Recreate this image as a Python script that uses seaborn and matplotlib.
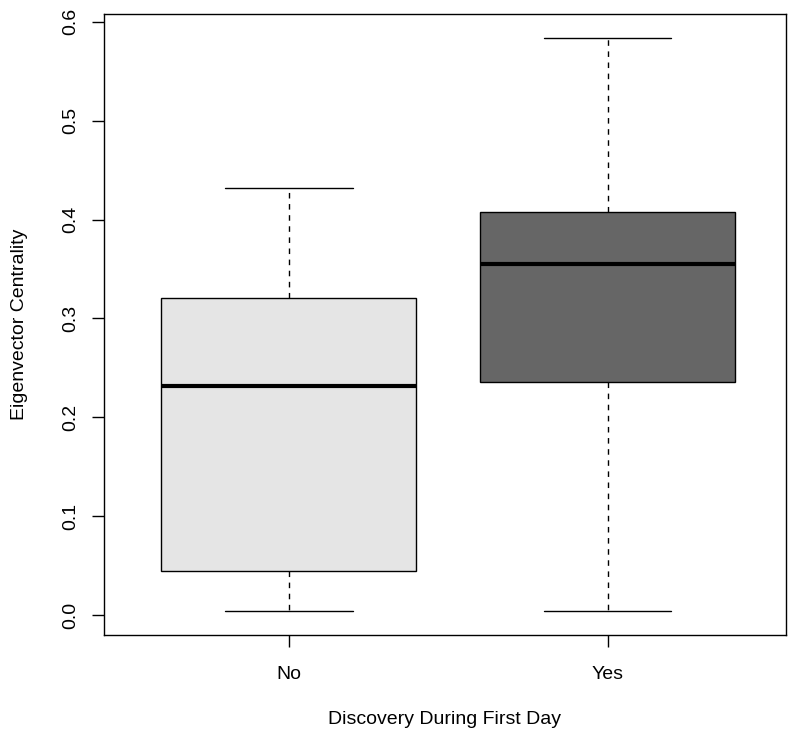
import matplotlib

matplotlib.use("Agg")
import matplotlib.pyplot as plt  # noqa: E402
import pandas as pd  # noqa: E402
import seaborn as sns  # noqa: E402

# Five-number summaries (min, Q1, median, Q3, max)
groups = ["No", "Yes"]
no_values = [0.004, 0.0445, 0.232, 0.321, 0.432]
yes_values = [0.004, 0.236, 0.355, 0.408, 0.584]
box_colors = ["#E5E5E5", "#666666"]
y_ticks = [0.0, 0.1, 0.2, 0.3, 0.4, 0.5, 0.6]

df = pd.DataFrame({
    "group": ["No"] * len(no_values) + ["Yes"] * len(yes_values),
    "value": no_values + yes_values,
})

sns.set_style("ticks")
plt.rcParams["font.family"] = ["Liberation Sans", "DejaVu Sans"]
plt.rcParams["text.color"] = "black"
plt.rcParams["axes.labelcolor"] = "black"
plt.rcParams["xtick.color"] = "black"
plt.rcParams["ytick.color"] = "black"

fig = plt.figure(figsize=(7.88, 7.35), dpi=100)
ax = fig.add_axes([104 / 788, 1 - 635 / 735, 682 / 788, 621 / 735])

sns.boxplot(
    data=df, x="group", y="value", hue="group", order=groups,
    palette=box_colors, legend=False, whis=(0, 100), width=0.8,
    linecolor="black", linewidth=1.0, ax=ax,
    whiskerprops={"linestyle": (0, (4, 4))},
    medianprops={"linewidth": 3.0},
)

ax.set_xlim(-0.58, 1.56)
ax.set_ylim(-0.0202, 0.608)
ax.set_yticks(y_ticks)
ax.set_yticklabels([f"{t:.1f}" for t in y_ticks], rotation=90, va="center")
ax.tick_params(axis="both", length=8.5, width=1, labelsize=14,
               colors="black")
ax.tick_params(axis="x", pad=14)
ax.tick_params(axis="y", pad=9)
for spine in ax.spines.values():
    spine.set_visible(True)
    spine.set_linewidth(1)
    spine.set_color("black")

ax.set_xlabel("Discovery During First Day", fontsize=14, color="black")
ax.set_ylabel("Eigenvector Centrality", fontsize=14, color="black")
ax.xaxis.set_label_coords(0.5, (635 - 720) / 621)
ax.yaxis.set_label_coords((20 - 104) / 682, 0.5)
ax.xaxis.label.set_va("center")
ax.yaxis.label.set_va("center")

fig.savefig("out.png", dpi=100)
